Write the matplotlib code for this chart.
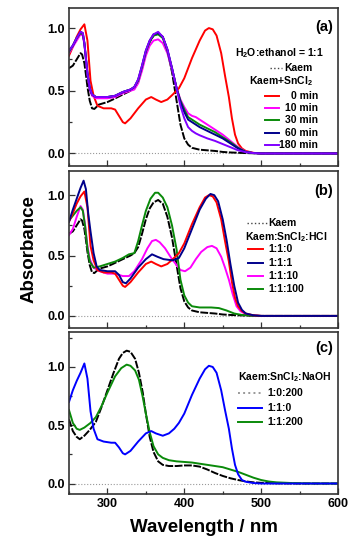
import numpy as np
import matplotlib
matplotlib.use("Agg")
import matplotlib.pyplot as plt
from matplotlib.ticker import MultipleLocator

# ---- panel (a): H2O:ethanol = 1:1, time series with SnCl2 ----
wl_kaem = [250, 255, 260, 265, 267, 270, 272, 274, 277, 280, 283, 289, 300, 307, 320, 330,
           335, 340, 345, 350, 355, 360, 366, 372, 378, 384, 390, 395, 400, 405, 410, 420,
           430, 440, 450, 460, 480, 500, 600]
abs_kaem = [0.68, 0.70, 0.75, 0.80, 0.79, 0.72, 0.63, 0.53, 0.42, 0.36, 0.355, 0.39, 0.41, 0.43,
            0.47, 0.50, 0.52, 0.57, 0.68, 0.80, 0.89, 0.94, 0.96, 0.93, 0.82, 0.65, 0.42, 0.23,
            0.12, 0.07, 0.045, 0.03, 0.025, 0.02, 0.012, 0.008, 0.003, 0.0, 0.0]

wl_red = [250, 255, 260, 265, 270, 274, 278, 282, 287, 295, 305, 310, 315, 320, 323, 330,
          340, 350, 357, 363, 370, 378, 385, 393, 400, 410, 420, 427, 432, 437, 442, 448,
          453, 458, 462, 466, 470, 475, 480, 490, 500, 600]
abs_red = [0.78, 0.85, 0.93, 0.99, 1.03, 0.90, 0.58, 0.46, 0.38, 0.36, 0.36, 0.35, 0.30, 0.25,
           0.24, 0.28, 0.36, 0.43, 0.45, 0.43, 0.41, 0.43, 0.47, 0.52, 0.60, 0.76, 0.90, 0.98,
           1.00, 0.99, 0.94, 0.80, 0.62, 0.45, 0.28, 0.15, 0.08, 0.04, 0.02, 0.005, 0.0, 0.0]

wl_sn = [250, 255, 260, 265, 268, 270, 272, 274, 277, 280, 285, 290, 300, 310, 320, 330, 335,
         340, 345, 350, 355, 360, 366, 372, 378, 384, 390, 395, 400, 405, 410, 415, 420, 430,
         440, 450, 460, 470, 480, 490, 500, 600]
abs_10 = [0.80, 0.85, 0.90, 0.95, 0.94, 0.87, 0.75, 0.63, 0.51, 0.46, 0.44, 0.44, 0.44, 0.45,
          0.48, 0.50, 0.51, 0.56, 0.66, 0.78, 0.86, 0.90, 0.91, 0.88, 0.80, 0.67, 0.52, 0.43,
          0.37, 0.32, 0.30, 0.29, 0.27, 0.23, 0.19, 0.15, 0.10, 0.05, 0.015, 0.004, 0.0, 0.0]
abs_30 = [0.81, 0.86, 0.92, 0.96, 0.95, 0.88, 0.76, 0.64, 0.52, 0.47, 0.45, 0.45, 0.45, 0.46,
          0.49, 0.51, 0.53, 0.58, 0.69, 0.81, 0.89, 0.94, 0.95, 0.92, 0.82, 0.68, 0.52, 0.42,
          0.35, 0.29, 0.27, 0.25, 0.23, 0.20, 0.17, 0.13, 0.09, 0.045, 0.012, 0.003, 0.0, 0.0]
abs_60 = [0.82, 0.86, 0.92, 0.97, 0.96, 0.88, 0.76, 0.64, 0.52, 0.47, 0.45, 0.45, 0.45, 0.46,
          0.49, 0.51, 0.53, 0.59, 0.70, 0.82, 0.90, 0.95, 0.96, 0.93, 0.83, 0.68, 0.52, 0.41,
          0.33, 0.27, 0.25, 0.23, 0.21, 0.18, 0.15, 0.12, 0.08, 0.04, 0.012, 0.003, 0.0, 0.0]
abs_180 = [0.82, 0.86, 0.92, 0.97, 0.96, 0.88, 0.76, 0.64, 0.52, 0.47, 0.45, 0.45, 0.45, 0.46,
           0.49, 0.51, 0.53, 0.59, 0.70, 0.82, 0.90, 0.95, 0.97, 0.93, 0.83, 0.68, 0.52, 0.38,
           0.28, 0.21, 0.18, 0.16, 0.145, 0.12, 0.10, 0.075, 0.05, 0.025, 0.01, 0.003, 0.0, 0.0]

# ---- panel (b): Kaem:SnCl2:HCl ----
wl_hcl1 = [250, 255, 260, 265, 269, 272, 275, 278, 282, 286, 290, 300, 310, 315, 320, 324,
           330, 340, 350, 358, 365, 373, 385, 393, 400, 410, 420, 428, 434, 439, 444, 450,
           455, 460, 465, 470, 475, 480, 490, 500, 600]
abs_hcl1 = [0.78, 0.88, 0.97, 1.06, 1.12, 1.05, 0.85, 0.70, 0.52, 0.41, 0.38, 0.37, 0.37, 0.34,
            0.28, 0.27, 0.31, 0.40, 0.47, 0.51, 0.49, 0.47, 0.46, 0.48, 0.56, 0.72, 0.88, 0.97,
            1.01, 1.00, 0.95, 0.80, 0.63, 0.43, 0.25, 0.11, 0.05, 0.02, 0.005, 0.0, 0.0]

wl_hcl10 = [250, 255, 260, 265, 268, 271, 274, 277, 282, 290, 300, 310, 320, 328, 335, 345,
            352, 358, 363, 368, 375, 383, 390, 395, 401, 408, 415, 422, 430, 436, 442, 448,
            453, 458, 463, 468, 473, 480, 490, 500, 600]
abs_hcl10 = [0.67, 0.72, 0.82, 0.91, 0.88, 0.75, 0.58, 0.47, 0.40, 0.37, 0.35, 0.35, 0.33, 0.33,
             0.37, 0.47, 0.56, 0.62, 0.63, 0.61, 0.56, 0.48, 0.42, 0.38, 0.37, 0.40, 0.47, 0.53,
             0.57, 0.58, 0.56, 0.49, 0.40, 0.30, 0.18, 0.08, 0.04, 0.015, 0.004, 0.0, 0.0]

wl_hcl100 = [250, 255, 260, 265, 268, 271, 274, 277, 282, 290, 300, 310, 320, 328, 335, 340,
             345, 350, 356, 362, 366, 372, 378, 384, 390, 395, 400, 405, 410, 420, 435, 445,
             455, 465, 475, 490, 500, 600]
abs_hcl100 = [0.79, 0.83, 0.87, 0.90, 0.87, 0.74, 0.56, 0.45, 0.40, 0.41, 0.43, 0.45, 0.48, 0.51,
              0.52, 0.62, 0.75, 0.87, 0.97, 1.02, 1.02, 0.98, 0.90, 0.75, 0.55, 0.30, 0.17, 0.11,
              0.08, 0.07, 0.07, 0.065, 0.045, 0.02, 0.008, 0.002, 0.0, 0.0]

# ---- panel (c): Kaem:SnCl2:NaOH ----
wl_naoh0 = [250, 255, 260, 264, 270, 277, 285, 292, 300, 308, 315, 320, 325, 330, 336, 341,
            346, 350, 355, 360, 366, 372, 380, 390, 400, 410, 420, 430, 440, 450, 460, 470,
            480, 490, 500, 520, 550, 600]
abs_naoh0 = [0.55, 0.45, 0.40, 0.38, 0.41, 0.46, 0.53, 0.65, 0.80, 0.95, 1.07, 1.12, 1.14, 1.13,
             1.07, 0.95, 0.78, 0.60, 0.40, 0.27, 0.19, 0.16, 0.15, 0.15, 0.155, 0.155, 0.145,
             0.12, 0.09, 0.065, 0.045, 0.03, 0.018, 0.01, 0.006, 0.002, 0.0, 0.0]

wl_blue = [250, 255, 260, 265, 270, 274, 278, 282, 287, 295, 305, 310, 315, 320, 323, 330,
           340, 350, 357, 363, 372, 380, 387, 393, 400, 410, 420, 427, 432, 437, 442, 448,
           453, 458, 462, 466, 470, 475, 480, 490, 500, 600]
abs_blue = [0.70, 0.80, 0.88, 0.95, 1.03, 0.90, 0.62, 0.47, 0.38, 0.36, 0.35, 0.35, 0.31, 0.26,
            0.25, 0.28, 0.36, 0.43, 0.45, 0.43, 0.41, 0.43, 0.47, 0.52, 0.60, 0.76, 0.90, 0.98,
            1.01, 1.00, 0.95, 0.80, 0.63, 0.47, 0.30, 0.16, 0.08, 0.03, 0.015, 0.004, 0.0, 0.0]

wl_naoh200 = [250, 255, 260, 264, 270, 278, 285, 292, 300, 310, 318, 325, 330, 336, 341, 346,
              350, 355, 360, 366, 372, 380, 390, 400, 410, 420, 430, 440, 450, 460, 470, 480,
              490, 500, 510, 520, 540, 560, 600]
abs_naoh200 = [0.63, 0.52, 0.47, 0.46, 0.48, 0.52, 0.57, 0.66, 0.78, 0.92, 0.99, 1.02, 1.01, 0.97,
               0.89, 0.74, 0.60, 0.44, 0.32, 0.25, 0.22, 0.20, 0.19, 0.185, 0.18, 0.17, 0.16,
               0.15, 0.14, 0.12, 0.10, 0.075, 0.05, 0.03, 0.017, 0.01, 0.004, 0.001, 0.0]

labels_a = ["0 min", "10 min", "30 min", "60 min", "180 min"]
labels_b = ["1:1:0", "1:1:1", "1:1:10", "1:1:100"]
labels_c = ["1:0:200", "1:1:0", "1:1:200"]

RED = "#ff0000"
MAGENTA = "#ff00ff"
GREEN = "#0a8a0a"
NAVY = "#00008b"
VIOLET = "#8000ff"
BLUE = "#0000ff"

KAEM_LS = (0, (4, 0.8))
LW = 1.4


def style_axis(ax, ylim, show_xlabels):
    ax.set_xlim(250, 600)
    ax.set_ylim(*ylim)
    ax.axhline(0, color="#999999", ls=":", lw=0.8, zorder=0)
    ax.xaxis.set_major_locator(MultipleLocator(100))
    ax.xaxis.set_minor_locator(MultipleLocator(50))
    ax.yaxis.set_major_locator(MultipleLocator(0.5))
    ax.yaxis.set_minor_locator(MultipleLocator(0.25))
    ax.tick_params(which="both", direction="in", color="#333333", width=0.9)
    ax.tick_params(which="major", length=4, labelsize=9, pad=3)
    ax.tick_params(which="minor", length=2.5)
    ax.set_yticks([0.0, 0.5, 1.0])
    ax.set_yticklabels(["0.0", "0.5", "1.0"], fontweight="bold")
    if not show_xlabels:
        ax.tick_params(axis="x", labelbottom=False)
    for sp in ax.spines.values():
        sp.set_color("#333333")
        sp.set_linewidth(1.2)


def legend_line(ax, x0, x1, y, **kw):
    ax.plot([x0, x1], [y, y], transform=ax.transAxes, clip_on=False, **kw)


def main():
    plt.rcParams["font.family"] = ["Liberation Sans", "DejaVu Sans"]
    plt.rcParams["font.weight"] = "bold"
    plt.rcParams["mathtext.fontset"] = "custom"
    plt.rcParams["mathtext.rm"] = "Liberation Sans:bold"
    plt.rcParams["mathtext.bf"] = "Liberation Sans:bold"
    plt.rcParams["mathtext.it"] = "Liberation Sans:bold"

    fig = plt.figure(figsize=(3.6, 5.5), dpi=100)
    left, width = 69 / 360, 269 / 360
    ax_a = fig.add_axes([left, 1 - 166 / 550, width, 158 / 550])
    ax_b = fig.add_axes([left, 1 - 328 / 550, width, 157 / 550])
    ax_c = fig.add_axes([left, 1 - 494 / 550, width, 162 / 550])

    fs = 7.5

    # (a)
    ax_a.plot(wl_kaem, abs_kaem, color="black", lw=LW, ls=KAEM_LS)
    series_a = [(abs_10, MAGENTA), (abs_30, GREEN), (abs_60, NAVY), (abs_180, VIOLET)]
    ax_a.plot(wl_red, abs_red, color=RED, lw=LW)
    for vals, col in series_a:
        ax_a.plot(wl_sn, vals, color=col, lw=LW)
    style_axis(ax_a, (-0.1, 1.16), False)
    ax_a.text(0.981, 0.88, "(a)", transform=ax_a.transAxes, ha="right", va="center",
              fontsize=10.5, fontweight="bold")
    ax_a.text(0.784, 0.715, r"H$_{2}$O:ethanol = 1:1", transform=ax_a.transAxes,
              ha="center", va="center", fontsize=fs, fontweight="bold")
    legend_line(ax_a, 0.747, 0.792, 0.622, color="#444444", lw=1.0, ls=":")
    ax_a.text(0.80, 0.622, "Kaem", transform=ax_a.transAxes, ha="left", va="center",
              fontsize=fs, fontweight="bold")
    ax_a.text(0.788, 0.538, r"Kaem+SnCl$_{2}$", transform=ax_a.transAxes, ha="center",
              va="center", fontsize=fs, fontweight="bold")
    colors_a = [RED, MAGENTA, GREEN, NAVY, VIOLET]
    ys_a = [0.445, 0.369, 0.291, 0.211, 0.131]
    for lab, col, y in zip(labels_a, colors_a, ys_a):
        legend_line(ax_a, 0.729, 0.781, y, color=col, lw=LW)
        ax_a.text(0.926, y, lab, transform=ax_a.transAxes, ha="right", va="center",
                  fontsize=fs, fontweight="bold")

    # (b)
    ax_b.plot(wl_kaem, abs_kaem, color="black", lw=LW, ls=KAEM_LS)
    ax_b.plot(wl_hcl10, abs_hcl10, color=MAGENTA, lw=LW)
    ax_b.plot(wl_hcl100, abs_hcl100, color=GREEN, lw=LW)
    ax_b.plot(wl_red, abs_red, color=RED, lw=LW)
    ax_b.plot(wl_hcl1, abs_hcl1, color=NAVY, lw=LW)
    style_axis(ax_b, (-0.1, 1.2), False)
    ax_b.set_ylabel("Absorbance", fontsize=13.5, fontweight="bold", labelpad=7)
    ax_b.text(0.981, 0.875, "(b)", transform=ax_b.transAxes, ha="right", va="center",
              fontsize=10.5, fontweight="bold")
    legend_line(ax_b, 0.661, 0.735, 0.667, color="#444444", lw=1.0, ls=":")
    ax_b.text(0.742, 0.667, "Kaem", transform=ax_b.transAxes, ha="left", va="center",
              fontsize=fs, fontweight="bold")
    ax_b.text(0.809, 0.582, r"Kaem:SnCl$_{2}$:HCl", transform=ax_b.transAxes, ha="center",
              va="center", fontsize=fs, fontweight="bold")
    colors_b = [RED, NAVY, MAGENTA, GREEN]
    ys_b = [0.501, 0.416, 0.331, 0.246]
    for lab, col, y in zip(labels_b, colors_b, ys_b):
        legend_line(ax_b, 0.665, 0.721, y, color=col, lw=LW)
        ax_b.text(0.742, y, lab, transform=ax_b.transAxes, ha="left", va="center",
                  fontsize=fs, fontweight="bold")

    # (c)
    ax_c.plot(wl_naoh0, abs_naoh0, color="black", lw=LW, ls=KAEM_LS)
    ax_c.plot(wl_naoh200, abs_naoh200, color=GREEN, lw=LW)
    ax_c.plot(wl_blue, abs_blue, color=BLUE, lw=LW)
    style_axis(ax_c, (-0.09, 1.3), True)
    ax_c.set_xticks([300, 400, 500, 600])
    ax_c.set_xticklabels(["300", "400", "500", "600"], fontweight="bold")
    ax_c.set_xlabel("Wavelength / nm", fontsize=13.5, fontweight="bold", labelpad=6)
    ax_c.text(0.981, 0.90, "(c)", transform=ax_c.transAxes, ha="right", va="center",
              fontsize=10.5, fontweight="bold")
    ax_c.text(0.803, 0.724, r"Kaem:SnCl$_{2}$:NaOH", transform=ax_c.transAxes, ha="center",
              va="center", fontsize=fs, fontweight="bold")
    colors_c = ["#999999", BLUE, GREEN]
    styles_c = [":", "-", "-"]
    ys_c = [0.622, 0.533, 0.446]
    for lab, col, ls, y in zip(labels_c, colors_c, styles_c, ys_c):
        legend_line(ax_c, 0.628, 0.717, y, color=col, lw=LW, ls=ls)
        ax_c.text(0.736, y, lab, transform=ax_c.transAxes, ha="left", va="center",
                  fontsize=fs, fontweight="bold")

    fig.savefig("out.png", dpi=100)
    plt.close(fig)


if __name__ == "__main__":
    main()
